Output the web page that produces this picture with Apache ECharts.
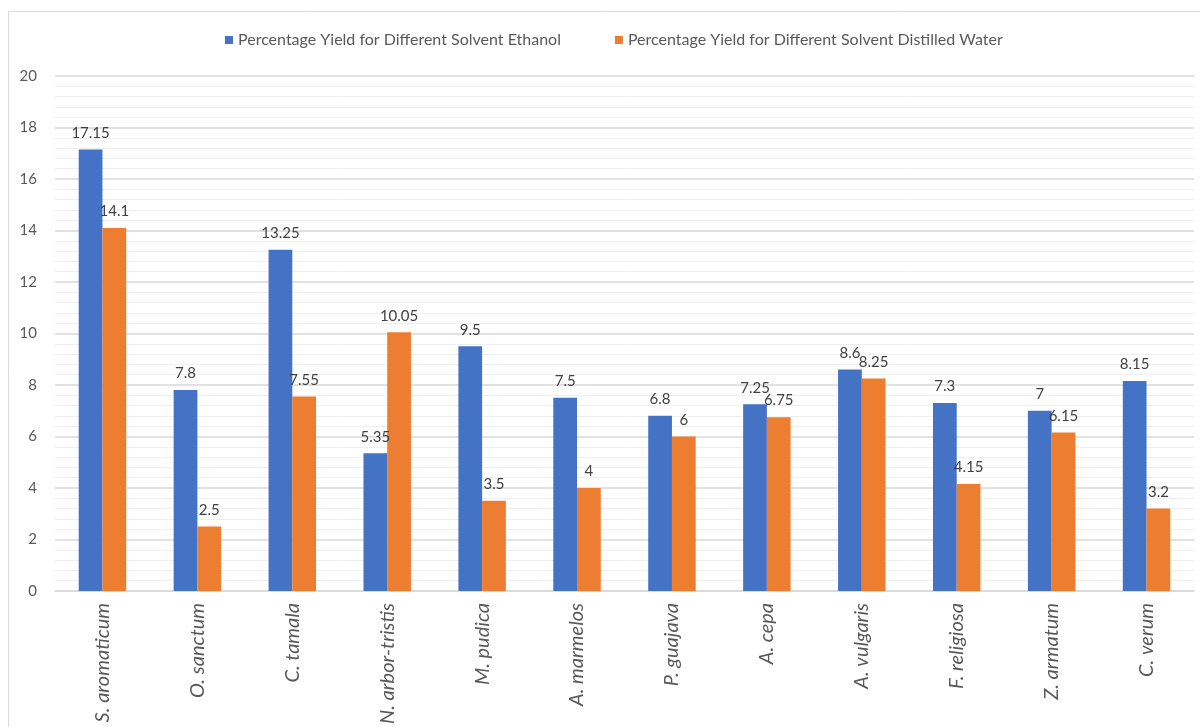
<!DOCTYPE html>
<html><head><meta charset="utf-8">
<script src="https://cdn.jsdelivr.net/npm/echarts@6/dist/echarts.min.js"></script>
<style>html,body{margin:0;padding:0;background:#fff}#c{width:1200px;height:727px}</style>
</head><body><div id="c"></div>
<script>
const categories = ['S. aromaticum','O. sanctum','C. tamala','N. arbor-tristis','M. pudica','A. marmelos','P. guajava','A. cepa','A. vulgaris','F. religiosa','Z. armatum','C. verum'];
const ethanol = [17.15, 7.8, 13.25, 5.35, 9.5, 7.5, 6.8, 7.25, 8.6, 7.3, 7, 8.15];
const water = [14.1, 2.5, 7.55, 10.05, 3.5, 4, 6, 6.75, 8.25, 4.15, 6.15, 3.2];
const seriesNames = ['Percentage Yield for Different Solvent Ethanol','Percentage Yield for Different Solvent Distilled Water'];
const yTicks = {min: 0, max: 20, interval: 2};

const font = 'Lato, "Open Sans", sans-serif';
const chart = echarts.init(document.getElementById('c'), null, {renderer: 'canvas'});
const label = {show: true, position: 'top', distance: 9, color: '#404040', fontSize: 15, fontFamily: font};
chart.setOption({
  animation: false,
  graphic: [{type: 'rect', shape: {x: 8.5, y: 11.5, width: 1220, height: 730}, style: {fill: 'none', stroke: '#d9d9d9', lineWidth: 1}, silent: true, z: -1}],
  legend: {
    top: 27, left: 220, itemWidth: 8, itemHeight: 8, itemGap: 54, icon: 'rect',
    textStyle: {color: '#595959', fontSize: 16, fontFamily: font},
    data: seriesNames
  },
  grid: {left: 55, right: 6, top: 76, bottom: 135, containLabel: false},
  xAxis: {
    type: 'category', data: categories,
    axisLine: {show: true, lineStyle: {color: '#d9d9d9', width: 1.5}},
    axisTick: {show: false},
    axisLabel: {rotate: 90, interval: 0, margin: 12, color: '#595959', fontSize: 20, fontStyle: 'italic', fontFamily: font}
  },
  yAxis: {
    type: 'value', min: yTicks.min, max: yTicks.max, interval: yTicks.interval,
    axisLine: {show: false}, axisTick: {show: false},
    axisLabel: {color: '#595959', fontSize: 15, margin: 18, fontFamily: font},
    splitLine: {show: true, lineStyle: {color: '#d9d9d9', width: 1.5}},
    minorTick: {show: false, splitNumber: 5},
    minorSplitLine: {show: true, lineStyle: {color: '#efefef', width: 1}}
  },
  series: [
    {name: seriesNames[0], type: 'bar', data: ethanol, itemStyle: {color: '#4472C4'}, barGap: '0%', barCategoryGap: '50%', label: label},
    {name: seriesNames[1], type: 'bar', data: water, itemStyle: {color: '#ED7D31'}, barGap: '0%', barCategoryGap: '50%', label: label}
  ]
});
</script></body></html>
